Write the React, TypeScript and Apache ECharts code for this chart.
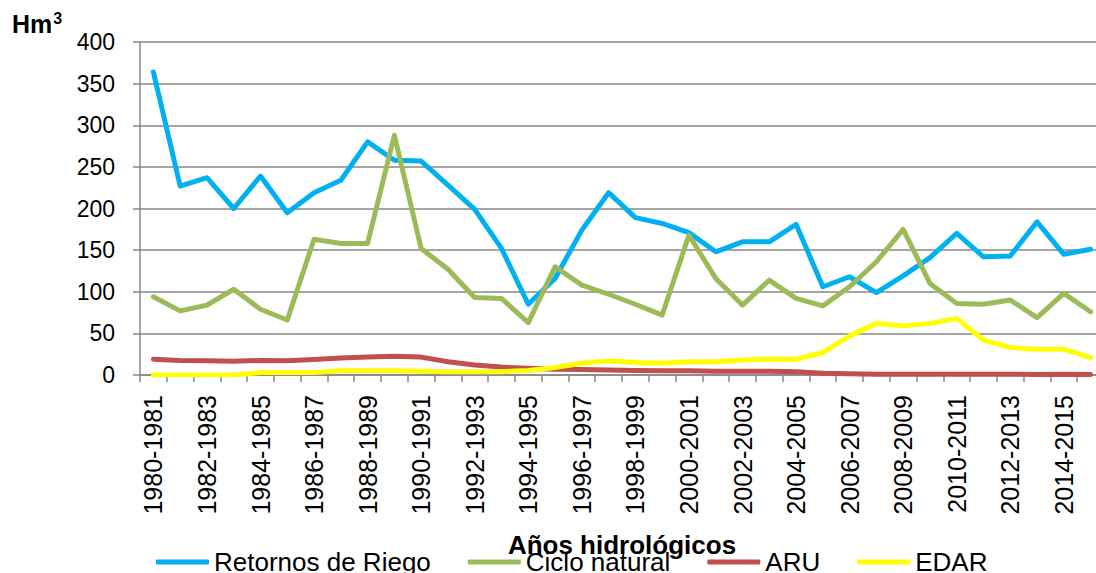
import React, { useEffect, useRef } from "react";
import * as echarts from "echarts";

const categories = [
  "1980-1981", "1981-1982", "1982-1983", "1983-1984", "1984-1985", "1985-1986",
  "1986-1987", "1987-1988", "1988-1989", "1989-1990", "1990-1991", "1991-1992",
  "1992-1993", "1993-1994", "1994-1995", "1995-1996", "1996-1997", "1997-1998",
  "1998-1999", "1999-2000", "2000-2001", "2001-2002", "2002-2003", "2003-2004",
  "2004-2005", "2005-2006", "2006-2007", "2007-2008", "2008-2009", "2009-2010",
  "2010-2011", "2011-2012", "2012-2013", "2013-2014", "2014-2015", "2015-2016",
];

const retornosRiego = [
  364, 227, 237, 200, 239, 195, 219, 234, 280, 258, 257, 228,
  199, 152, 85, 116, 174, 219, 189, 182, 171, 148, 160, 160,
  181, 106, 118, 99, 119, 141, 170, 142, 143, 184, 145, 151,
];

const cicloNatural = [
  94, 77, 84, 103, 79, 66, 163, 158, 158, 288, 152, 127,
  93, 92, 63, 130, 108, 97, 85, 72, 168, 116, 84, 114,
  92, 83, 106, 136, 175, 110, 86, 85, 90, 69, 98, 76,
];

const aru = [
  19, 17.5, 17, 16.5, 17.5, 17, 18.5, 20.5, 21.5, 22.5, 21.5, 16,
  12, 9.5, 8, 7, 6.5, 6, 5.5, 5, 5, 4.5, 4.5, 4.5,
  4, 2, 1.5, 1, 1, 1, 1, 1, 1, 0.5, 1, 0.5,
];

const edar = [
  0, 0, 0, 0, 3, 3, 3, 5, 5, 5, 4.5, 4,
  4, 4, 5.5, 9, 14, 17, 15, 14, 16, 16, 18, 19,
  19, 27, 47, 62, 59, 62, 68, 42, 33, 31, 31, 21,
];

const seriesNames = ["Retornos de Riego", "Ciclo natural", "ARU", "EDAR"];
const seriesColors = ["#00B0F0", "#9BBB59", "#C0504D", "#FFFF00"];
const yTicks = { min: 0, max: 400, interval: 50 };

const FONT = "'Liberation Sans', Arial, sans-serif";
const GRID_COLOR = "#878787";

export default function App() {
  const ref = useRef<HTMLDivElement>(null);

  useEffect(() => {
    if (!ref.current) return;
    const chart = echarts.init(ref.current, undefined, { renderer: "svg" });
    const seriesData = [retornosRiego, cicloNatural, aru, edar];
    chart.setOption({
      animation: false,
      backgroundColor: "#ffffff",
      color: seriesColors,
      grid: { left: 140, top: 42, right: 16, bottom: 198, containLabel: false },
      graphic: [
        {
          type: "text",
          left: 12,
          top: 10,
          style: {
            text: "{b|Hm}{s|3}",
            rich: {
              b: {
                fontFamily: FONT,
                fontWeight: "bold",
                fontSize: 25,
                fill: "#000",
                color: "#000",
                verticalAlign: "bottom",
              },
              s: {
                fontFamily: FONT,
                fontWeight: "bold",
                fontSize: 16,
                fill: "#000",
                color: "#000",
                verticalAlign: "top",
                padding: [0, 0, 10, 1],
              },
            },
          },
        },
      ],
      legend: {
        left: 151,
        top: 544,
        itemWidth: 53,
        itemHeight: 5,
        itemGap: 37,
        icon: "roundRect",
        textStyle: { fontSize: 26, color: "#000", fontFamily: FONT },
        data: seriesNames,
      },
      xAxis: {
        type: "category",
        data: categories,
        boundaryGap: true,
        name: "Años hidrológicos",
        nameLocation: "middle",
        nameGap: 157,
        nameTextStyle: {
          fontFamily: FONT,
          fontWeight: "bold",
          fontSize: 26,
          color: "#000",
        },
        axisLine: { show: true, lineStyle: { color: GRID_COLOR, width: 1.5 } },
        axisTick: {
          show: true,
          length: 7,
          interval: 0,
          lineStyle: { color: GRID_COLOR, width: 1.5 },
        },
        axisLabel: {
          interval: 1,
          rotate: 90,
          fontSize: 25,
          margin: 20,
          color: "#000",
          fontFamily: FONT,
        },
        splitLine: { show: false },
      },
      yAxis: {
        type: "value",
        min: yTicks.min,
        max: yTicks.max,
        interval: yTicks.interval,
        axisLine: { show: true, lineStyle: { color: GRID_COLOR, width: 1.5 } },
        axisTick: { show: true, length: 7, lineStyle: { color: GRID_COLOR, width: 1.5 } },
        axisLabel: { fontSize: 23, margin: 25, color: "#000", fontFamily: FONT },
        splitLine: { show: true, lineStyle: { color: GRID_COLOR, width: 1.5 } },
      },
      series: seriesNames.map((name, i) => ({
        name,
        type: "line",
        data: seriesData[i],
        symbol: "none",
        showSymbol: false,
        smooth: false,
        lineStyle: { width: 5, color: seriesColors[i], cap: "round", join: "round" },
        itemStyle: { color: seriesColors[i] },
        z: 2 + i,
      })),
    });
    return () => chart.dispose();
  }, []);

  return (
    <div
      style={{
        position: "fixed",
        left: 0,
        top: 0,
        width: 1096,
        height: 573,
        overflow: "hidden",
        background: "#fff",
      }}
    >
      <div ref={ref} style={{ width: 1120, height: 573 }} />
    </div>
  );
}
